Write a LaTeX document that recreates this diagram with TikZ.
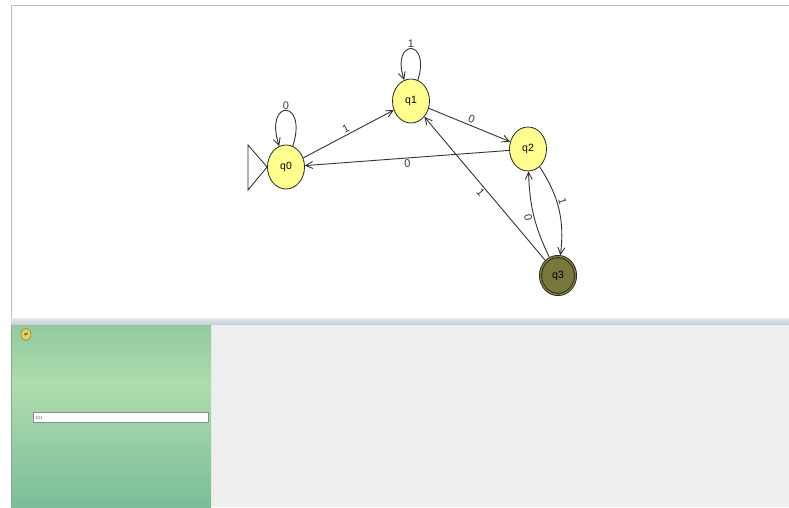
\documentclass[tikz,border=0pt]{standalone}
\usepackage{fontspec}
\setmainfont{Liberation Sans}
\usetikzlibrary{arrows.meta,shapes.geometric,calc}

\definecolor{stateyellow}{HTML}{FFFF8E}
\definecolor{finalolive}{HTML}{77773E}
\definecolor{edgegrey}{HTML}{333333}
\definecolor{labelgrey}{HTML}{383838}
\definecolor{panelborder}{HTML}{AFC0D2}
\definecolor{greentop}{HTML}{92CA9F}
\definecolor{greenmid}{HTML}{AEDCAD}
\definecolor{greenbottom}{HTML}{7BBD98}
\definecolor{greenedge}{HTML}{8FA596}
\definecolor{workarea}{HTML}{EEEEEE}
\definecolor{dividertop}{HTML}{E6EAEE}
\definecolor{dividerbottom}{HTML}{C3CAD2}
\definecolor{icongold}{HTML}{E2D45C}
\definecolor{iconedge}{HTML}{8C7C2C}

\begin{document}
\begin{tikzpicture}[x=1pt,y=1pt,
  state/.style={ellipse, draw=black!85, line width=0.8pt, fill=stateyellow,
    minimum width=37pt, minimum height=44pt, inner sep=0pt,
    font=\fontsize{10.5}{12}\selectfont},
  finalstate/.style={ellipse, draw=black!90, line width=0.7pt, fill=finalolive,
    double=finalolive, double distance=1.6pt,
    minimum width=35pt, minimum height=38pt, inner sep=0pt,
    font=\fontsize{10.5}{12}\selectfont},
  edge/.style={draw=edgegrey, line width=0.9pt,
    -{Straight Barb[length=7pt,width=7pt]}},
  lab/.style={font=\fontsize{11}{13}\selectfont, text=labelgrey,
    inner sep=1.5pt, sloped, auto},
  looplab/.style={font=\fontsize{11}{13}\selectfont, text=labelgrey,
    inner sep=0.5pt, above},
  startmark/.style={draw=black!85, line width=0.8pt, fill=white}
]
\useasboundingbox (0,0) rectangle (789,-507);

% page background and editor canvas
\fill[white] (0,0) rectangle (789,-507);
\fill[white] (11,-5) rectangle (789,-318);
\draw[panelborder, line width=1pt] (11.5,-318) -- (11.5,-5.5) -- (789,-5.5);

% splitter between canvas and lower panels
\shade[top color=dividertop, bottom color=dividerbottom] (11,-318) rectangle (789,-325);

% lower panels: simulation strip and work area
\fill[workarea] (211,-325) rectangle (789,-507);
\shade[top color=greentop, bottom color=greenmid] (11,-325) rectangle (211,-386);
\shade[top color=greenmid, bottom color=greenbottom] (11,-385.5) rectangle (211,-507);
\draw[greenedge, line width=1pt] (11.5,-325) -- (11.5,-507);

% current-state token and input tape
\node[ellipse, draw=iconedge, line width=0.5pt, fill=icongold,
  minimum width=10pt, minimum height=12pt, inner sep=0pt,
  font=\fontsize{3.5}{4}\selectfont] (token) at (26,-334.5) {q0};
\node[draw=black!45, line width=0.8pt, fill=white, minimum width=175pt,
  minimum height=10.5pt, inner sep=0pt, anchor=west] (tape) at (33,-417.5) {};
\node[font=\fontsize{4.5}{5}\selectfont, text=black!60, anchor=west,
  inner sep=0pt] (tapetext) at (35,-417.5) {101};

% states
\node[state] (q0) at (286,-167) {q0};
\node[state] (q1) at (411,-101) {q1};
\node[state] (q2) at (528,-149) {q2};
\node[finalstate] (q3) at (558,-275.5) {q3};

% start marker
\coordinate (s1) at (248,-145);
\coordinate (s2) at (248,-190);
\draw[startmark] (s1) -- (q0.west) -- (s2) -- cycle;

% transitions
\draw[edge] (q0) -- node[lab]{1} (q1);
\draw[edge] (q1) -- node[lab]{0} (q2);
\draw[edge] (q2) -- node[lab, swap]{0} (q0);
\draw[edge, shorten <=1pt] (q3) -- node[lab, swap]{1} (q1);
\draw[edge, shorten >=1pt] (q2) to[bend left=20] node[lab, pos=0.42]{1} (q3);
\draw[edge, shorten <=1pt] (q3) to[bend left=12] node[lab, swap, pos=0.5]{0} (q2);

% self loops
\draw[edge] (q0.72) .. controls +(72:50) and +(108:50) .. node[looplab]{0} (q0.108);
\draw[edge] (q1.72) .. controls +(72:44) and +(108:44) .. node[looplab]{1} (q1.108);
\end{tikzpicture}
\end{document}
